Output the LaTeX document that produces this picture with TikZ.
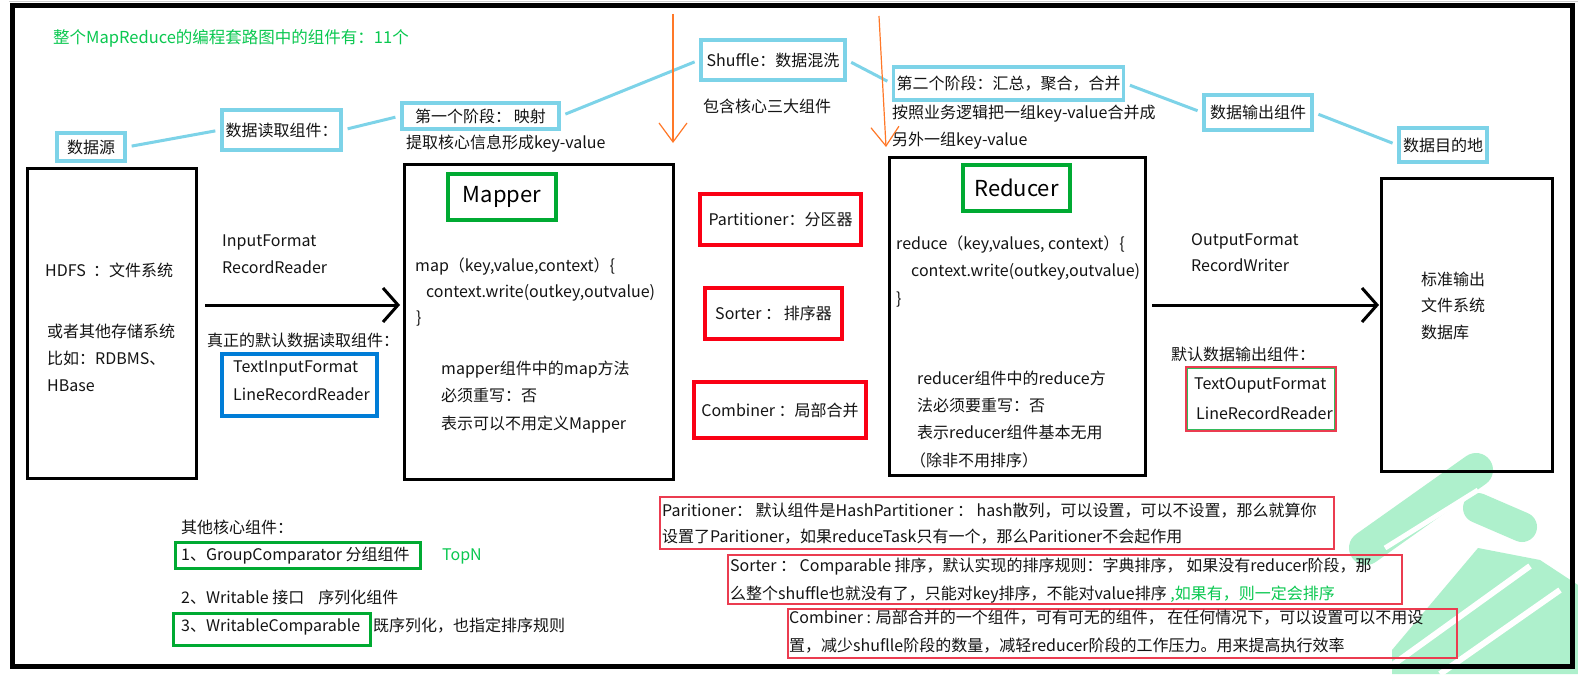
\documentclass[tikz,border=0pt]{standalone}
\usepackage{fontspec}
\setmainfont{Noto Sans CJK SC}
\usetikzlibrary{arrows.meta}
\definecolor{cyanb}{RGB}{125,211,232}
\definecolor{greenb}{RGB}{0,170,50}
\definecolor{redb}{RGB}{250,0,20}
\definecolor{blueb}{RGB}{0,125,215}
\definecolor{titleg}{RGB}{10,200,80}
\definecolor{thinred}{RGB}{235,60,80}
\definecolor{orangec}{RGB}{255,120,40}
\definecolor{inkc}{RGB}{20,20,20}
\definecolor{wmc}{RGB}{120,230,170}
\newcommand\fsz[1]{\fontsize{#1pt}{#1pt}\selectfont}
\begin{document}
\begin{tikzpicture}[x=1pt,y=-1pt,
  t/.style={anchor=west,inner sep=0pt,text=inkc,font=\fsz{16},text height=12pt,text depth=3.5pt},
  cbox/.style={draw=cyanb,line width=3.5pt,inner sep=0pt,text=inkc,font=\fsz{16}},
  kbox/.style={draw=black,line width=3pt,inner sep=0pt},
  gbox/.style={draw=greenb,line width=4pt,inner sep=0pt,text=black},
  rbox/.style={draw=redb,line width=4pt,inner sep=0pt,text=inkc,font=\fsz{16}},
  tbox/.style={draw=thinred,line width=1.3pt,inner sep=0pt},
  link/.style={draw=cyanb,line width=3pt,shorten <=5pt,shorten >=5pt},
  barrow/.style={draw=black,line width=3pt,-{Straight Barb[length=15pt,width=34pt]}},
  orarrow/.style={draw=orangec,line width=1.2pt,-{Straight Barb[length=19pt,width=28pt]}},
]
\useasboundingbox (0,0) rectangle (1578,674);
\fill[white] (0,0) rectangle (1578,674);
\draw[gray!40,line width=1.5pt] (9,1.5) -- (1578,1.5);

% watermark (approximate, drawn under the text)
\begin{scope}[opacity=0.6]
\draw[wmc,line width=34pt,line cap=round] (1366,548) -- (1476,470);
\draw[wmc,line width=30pt,line cap=round] (1478,508) -- (1522,527);
\fill[wmc] (1392,674) -- (1392,650) -- (1478,548) -- (1540,560) -- (1578,585) -- (1578,674) -- cycle;
\end{scope}
\draw[white,line width=6pt] (1380,674) -- (1530,566);
\draw[white,line width=6pt] (1440,674) -- (1560,590);
\draw[white,line width=5pt] (1385,548) -- (1478,490);

\draw[black,line width=5pt] (12,6) rectangle (1572,666);

% title
\node[t,text=titleg,font=\fsz{16.5}] (title) at (53,39) {整个MapReduce的编程套路图中的组件有：11个};

% cyan labels
\node[cbox,minimum width=68pt,minimum height=28pt] (ds) at (91,147) {数据源};
\node[cbox,minimum width=119pt,minimum height=40pt] (rd) at (281.5,130) {数据读取组件：};
\node[cbox,minimum width=157pt,minimum height=26pt] (p1) at (480.5,116) {第一个阶段：\,映射};
\node[cbox,minimum width=144pt,minimum height=40pt] (sh) at (773,60) {Shuffle：数据混洗};
\node[cbox,minimum width=230pt,minimum height=33pt] (p2) at (1008.5,83.5) {第二个阶段：汇总，聚合，合并};
\node[cbox,minimum width=108pt,minimum height=35pt] (ob) at (1258,112.5) {数据输出组件};
\node[cbox,minimum width=88pt,minimum height=34pt] (dd) at (1443,145) {数据目的地};
\draw[link] (ds.east) -- (rd.west);
\draw[link] (rd.east) -- (p1.west);
\draw[link] (p1.east) -- (sh.west);
\draw[link] (sh.east) -- (p2.west);
\draw[link] (p2.east) -- (ob.west);
\draw[link] (ob.east) -- (dd.west);

\node[t] (p1t) at (406,144) {提取核心信息形成key-value};
\node[t] (sht) at (703,108) {包含核心三大组件};
\node[t] (p2t1) at (892,114) {按照业务逻辑把一组key-value合并成};
\node[t] (p2t2) at (892,141) {另外一组key-value};

% orange arrows
\coordinate (o1a) at (673,14);
\coordinate (o1b) at (673,143);
\coordinate (o2a) at (879,16);
\coordinate (o2b) at (886,147);
\draw[orarrow] (o1a) -- (o1b);
\draw[orarrow] (o2a) -- (o2b);

% big boxes
\node[kbox,minimum width=169pt,minimum height=310pt] (hdfs) at (112,323.5) {};
\node[kbox,minimum width=269pt,minimum height=315pt] (mapbox) at (539,322) {};
\node[kbox,minimum width=256pt,minimum height=318pt] (redbox) at (1017.5,316.5) {};
\node[kbox,minimum width=171pt,minimum height=293pt] (dstbox) at (1467,325) {};

% source box texts
\node[t] (h1) at (45,272) {HDFS\ \ ：文件系统};
\node[t] (h2) at (47,333) {或者其他存储系统};
\node[t] (h3) at (47,360) {比如：RDBMS、};
\node[t] (h4) at (47,387) {HBase};

% input arrow
\coordinate (ay) at (0,305);
\draw[barrow,shorten <=7pt,shorten >=3pt] (hdfs.east |- ay) -- (mapbox.west |- ay);
\node[t] (if1) at (222,242) {InputFormat};
\node[t] (if2) at (222,269) {RecordReader};
\node[t] (if3) at (207,342) {真正的默认数据读取组件：};
\node[draw=blueb,line width=4pt,minimum width=155pt,minimum height=62pt,inner sep=0pt] (bluebox) at (299.5,385) {};
\node[t] (tif) at (233,368) {TextInputFormat};
\node[t] (lrr) at (233,396) {LineRecordReader};

% mapper
\node[gbox,minimum width=108pt,minimum height=46pt,font=\fsz{22}] (mapper) at (502,197) {Mapper};
\node[t] (m1) at (415,267) {map（key,value,context）\{};
\node[t] (m2) at (426,293) {context.write(outkey,outvalue)};
\node[t] (m3) at (416,319) {\}};
\node[t] (m4) at (441,370) {mapper组件中的map方法};
\node[t] (m5) at (441,397) {必须重写：否};
\node[t] (m6) at (441,425) {表示可以不用定义Mapper};

% shuffle components
\node[rbox,minimum width=161pt,minimum height=51pt] (part) at (780.5,219.5) {Partitioner：分区器};
\node[rbox,minimum width=137pt,minimum height=51pt] (sort) at (773.5,313.5) {Sorter\ ：\,排序器};
\node[rbox,minimum width=172pt,minimum height=56pt] (comb) at (780,410) {Combiner\ ：局部合并};

% reducer
\node[gbox,minimum width=107pt,minimum height=46pt,font=\fsz{22}] (reducer) at (1016.5,188) {Reducer};
\node[t] (r1) at (896,245) {reduce（key,values, context）\{};
\node[t] (r2) at (911,272) {context.write(outkey,outvalue)};
\node[t] (r3) at (896,300) {\}};
\node[t] (r4) at (917,380) {reducer组件中的reduce方};
\node[t] (r5) at (917,407) {法必须要重写：否};
\node[t] (r6) at (917,434) {表示reducer组件基本无用};
\node[t] (r7) at (910,462) {（除非不用排序）};

% output arrow
\draw[barrow,shorten <=5pt,shorten >=1pt] (redbox.east |- ay) -- (dstbox.west |- ay);
\node[t] (of1) at (1191,241) {OutputFormat};
\node[t] (of2) at (1191,267) {RecordWriter};
\node[t] (of3) at (1171,356) {默认数据输出组件：};
\node[draw=thinred,line width=1.2pt,minimum width=150pt,minimum height=64pt,inner sep=0pt] (obox) at (1261,399) {};
\node[draw=greenb!80!white,line width=1.2pt,minimum width=147pt,minimum height=61pt,inner sep=0pt] (obox2) at (1261,399) {};
\node[t] (tof) at (1194,385) {TextOuputFormat};
\node[t] (olr) at (1196,415) {LineRecordReader};

% destination texts
\node[t] (d1) at (1421,281) {标准输出};
\node[t] (d2) at (1421,307) {文件系统};
\node[t] (d3) at (1421,334) {数据库};

% other components
\node[t] (oc) at (181,529) {其他核心组件：};
\node[draw=greenb,line width=3pt,minimum width=245pt,minimum height=26pt,inner sep=0pt] (g1) at (297.5,555) {};
\node[t] (oc1) at (181,556) {1、GroupComparator 分组组件};
\node[t,text=titleg] (topn) at (442,556) {TopN};
\node[t] (oc2) at (181,599) {2、Writable 接口\hspace{14pt}序列化组件};
\node[draw=greenb,line width=3pt,minimum width=197pt,minimum height=32pt,inner sep=0pt] (g3) at (271.5,629) {};
\node[t] (oc3) at (181,627) {3、WritableComparable};
\node[t] (oc3b) at (373,627) {既序列化，也指定排序规则};

% bottom notes
\node[tbox,minimum width=674pt,minimum height=52pt] (bp) at (997,523) {};
\node[t] (bp1) at (662,512) {Paritioner： 默认组件是HashPartitioner ： hash散列，可以设置，可以不设置，那么就算你};
\node[t] (bp2) at (662,538) {设置了Paritioner，如果reduceTask只有一个，那么Paritioner不会起作用};
\node[tbox,minimum width=674pt,minimum height=49pt] (bs) at (1065,579.5) {};
\node[t] (bs1) at (730,567) {Sorter ： Comparable 排序，默认实现的排序规则：字典排序， 如果没有reducer阶段，那};
\node[t] (bs2) at (730,595) {么整个shuffle也就没有了，只能对key排序，不能对value排序 {\color{titleg},如果有，则一定会排序}};
\node[tbox,minimum width=669pt,minimum height=49pt] (bc) at (1122.5,633.5) {};
\node[t] (bc1) at (789,619) {Combiner : 局部合并的一个组件，可有可无的组件， 在任何情况下，可以设置可以不用设};
\node[t] (bc2) at (789,647) {置，减少shuflle阶段的数量，减轻reducer阶段的工作压力。用来提高执行效率};
\end{tikzpicture}
\end{document}
